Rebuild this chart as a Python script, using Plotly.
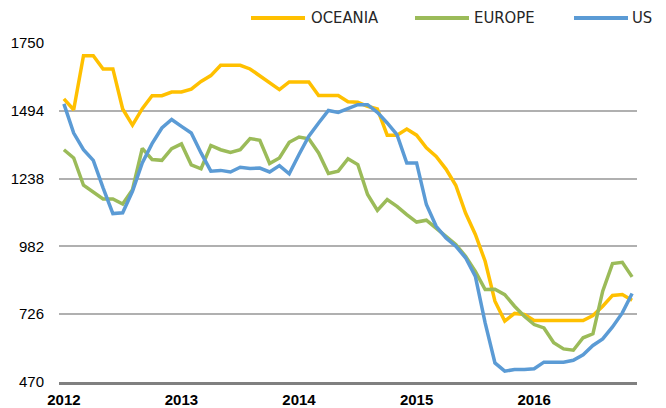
import pandas as pd
import plotly.graph_objects as go

# monthly categories, Jan 2012 .. Nov 2016
months = pd.date_range("2012-01-01", periods=59, freq="MS").strftime("%Y-%m").tolist()
year_ticks = ["2012-01", "2013-01", "2014-01", "2015-01", "2016-01"]
year_labels = ["2012", "2013", "2014", "2015", "2016"]
y_ticks = [470, 726, 982, 1238, 1494, 1750]

oceania = [1539, 1498, 1702, 1702, 1652, 1652, 1501, 1440, 1502, 1551,
           1551, 1565, 1565, 1576, 1605, 1627, 1666, 1666, 1666, 1652,
           1627, 1602, 1574, 1603, 1603, 1603, 1552, 1552, 1552, 1528,
           1526, 1511, 1501, 1402, 1402, 1425, 1402, 1354, 1322, 1274,
           1213, 1108, 1027, 926, 775, 700, 729, 725, 702, 702,
           702, 702, 702, 702, 721, 756, 797, 800, 779]

europe = [1347, 1316, 1213, 1186, 1161, 1161, 1142, 1196, 1352, 1310,
          1307, 1351, 1369, 1290, 1275, 1363, 1347, 1337, 1347, 1389,
          1383, 1295, 1316, 1375, 1395, 1388, 1335, 1257, 1266, 1313,
          1291, 1178, 1118, 1159, 1133, 1102, 1074, 1081, 1052, 1020,
          989, 945, 888, 819, 820, 800, 756, 718, 687, 674,
          618, 595, 590, 637, 652, 813, 917, 922, 867]

us = [1520, 1410, 1347, 1307, 1203, 1106, 1109, 1190, 1297, 1370,
      1429, 1461, 1435, 1410, 1335, 1266, 1269, 1263, 1281, 1276,
      1278, 1263, 1287, 1256, 1329, 1398, 1448, 1495, 1488, 1503,
      1517, 1517, 1488, 1448, 1404, 1297, 1297, 1140, 1058, 1014,
      983, 939, 869, 693, 542, 511, 517, 517, 520, 545,
      546, 545, 552, 573, 608, 633, 678, 731, 804]

series = [("OCEANIA", oceania, "#FFC000"),
          ("EUROPE", europe, "#9BBB59"),
          ("US", us, "#5B9BD5")]

W, H = 666, 408
L, R, T, B = 59, 29, 43, 26
pw, ph = W - L - R, H - T - B

def px(x):
    return (x - L) / pw

def py(y):
    return (H - B - y) / ph

fig = go.Figure()
for name, vals, col in series:
    fig.add_trace(go.Scatter(x=months, y=vals, mode="lines", name=name,
                             line=dict(color=col, width=3.5), showlegend=False))

# hand-made legend (longer line keys than plotly's)
legend_pos = [(251, 305, 310), (415, 469, 473), (574, 628, 631)]
for (name, vals, col), (x0, x1, xt) in zip(series, legend_pos):
    fig.add_shape(type="line", xref="paper", yref="paper",
                  x0=px(x0), x1=px(x1), y0=py(18), y1=py(18),
                  line=dict(color=col, width=4))
    fig.add_annotation(text=name, xref="paper", yref="paper", x=px(xt - 1), y=py(18),
                       xanchor="left", yanchor="middle", showarrow=False,
                       font=dict(family="DejaVu Sans Condensed, DejaVu Sans",
                                 size=16.5, color="#262626"))

fig.update_layout(
    width=W, height=H,
    margin=dict(l=L, r=R, t=T, b=B, pad=0),
    plot_bgcolor="white", paper_bgcolor="white",
    xaxis=dict(type="category", range=[-0.5, 58.5],
               tickvals=year_ticks, ticktext=year_labels,
               tickfont=dict(family="Arial, Liberation Sans", size=15, color="black", weight="bold"),
               showgrid=False, showline=True, linecolor="#808080", linewidth=3,
               ticks="", ticklabelstandoff=2, automargin=False),
    yaxis=dict(range=[470, 1750], tickvals=y_ticks,
               tickfont=dict(family="Arial, Liberation Sans", size=15, color="black"),
               showgrid=True, gridcolor="#B0B0B0", gridwidth=1.5,
               zeroline=False, showline=False, ticks="",
               ticklabelstandoff=14, automargin=False),
)

# drop the default page margin so the figure sits at the window's corner
fig.write_html("out.html", config={"displayModeBar": False},
               post_script="document.body.style.margin='0px';")
